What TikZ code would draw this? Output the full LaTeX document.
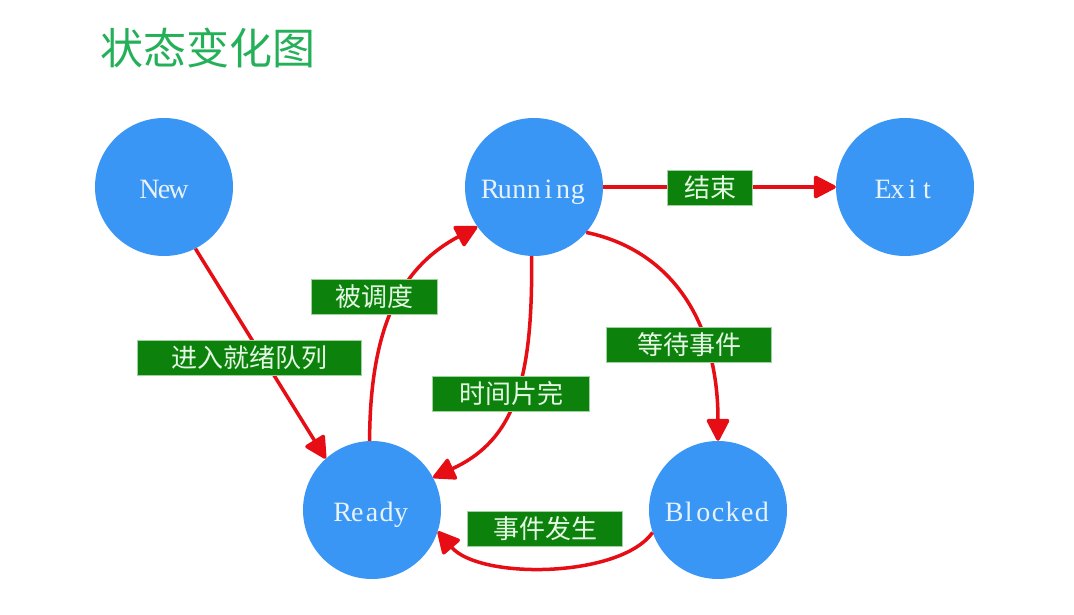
\documentclass[tikz,border=0pt]{standalone}
\usepackage{fontspec}
\setmainfont{Liberation Serif}
\newfontfamily\cjk{Noto Sans CJK SC}
\usetikzlibrary{arrows.meta}
\definecolor{stateblue}{RGB}{58,150,245}
\definecolor{statetext}{RGB}{232,242,250}
\definecolor{edgered}{RGB}{230,14,20}
\definecolor{boxgreen}{RGB}{12,130,12}
\definecolor{boxedge}{RGB}{160,210,160}
\definecolor{boxtext}{RGB}{228,248,228}
\definecolor{titlegreen}{RGB}{36,176,88}
\makeatletter
\newcommand\cellword[1]{\@tfor\cw@c:=#1\do{\makebox[14.6pt]{\cw@c}}}
\makeatother
\begin{document}
\begin{tikzpicture}[x=1pt,y=-1pt,
  state/.style={circle,fill=stateblue,minimum size=138pt,inner sep=0pt,text=statetext,font=\fontsize{28}{28}\selectfont,text height=23pt,text depth=0pt},
  trans/.style={draw=edgered,line width=3.5pt,-{Triangle[length=24pt,width=24pt,round]}},
  tag/.style={fill=boxgreen,draw=boxedge,line width=0.8pt,text=boxtext,font=\cjk\fontsize{26}{26}\selectfont,minimum height=35pt,inner sep=0pt},
]
\fill[white] (0,0) rectangle (1074,615);
\useasboundingbox (0,0) rectangle (1074,615);
\node[text=titlegreen,font=\cjk\fontsize{43}{43}\selectfont] (title) at (208,48) {状态变化图};
\node[state] (new) at (164,187) {\cellword{New}};
\node[state] (running) at (534,187) {\cellword{Running}};
\node[state] (exit) at (905,187) {\cellword{Exit}};
\node[state] (ready) at (372,510) {\cellword{Ready}};
\node[state] (blocked) at (718,510) {\cellword{Blocked}};
\draw[trans] (new.-63) -- (ready.132);
\draw[trans] (ready.92) .. controls (370,320) and (405,265) .. (running.215);
\draw[trans] (running.268) .. controls (533,380) and (515,440) .. (ready.28);
\draw[trans] (running) -- (exit);
\draw[trans] (running.319) .. controls (670,250) and (718,320) .. (blocked.90);
\draw[trans] (blocked.199) .. controls (620,578) and (480,580) .. (ready.342);
\node[tag,minimum width=224pt] (lenter) at (249,358) {进入就绪队列};
\node[tag,minimum width=126pt] (lsched) at (374,297) {被调度};
\node[tag,minimum width=157pt] (lslice) at (511,394) {时间片完};
\node[tag,minimum width=165pt] (lwait) at (689,345) {等待事件};
\node[tag,minimum width=85pt] (lend) at (710,188) {结束};
\node[tag,minimum width=155pt] (levent) at (545,529) {事件发生};
\end{tikzpicture}
\end{document}
